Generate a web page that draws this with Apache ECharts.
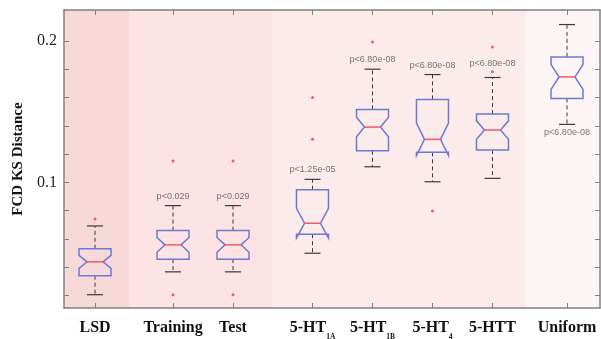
<!DOCTYPE html>
<html>
<head>
<meta charset="utf-8">
<script src="https://cdn.jsdelivr.net/npm/echarts@6/dist/echarts.min.js"></script>
<style>html,body{margin:0;padding:0;background:#fff}#c{width:601px;height:339px}</style>
</head>
<body>
<div id="c"></div>
<script>
// ---- data ----
const categories = ['LSD', 'Training', 'Test', '5-HT1A', '5-HT1B', '5-HT4', '5-HTT', 'Uniform'];
const tickLabels = ['{b|LSD}', '{b|Training}', '{b|Test}', '{b|5-HT}{s|1A}', '{b|5-HT}{s|1B}', '{b|5-HT}{s|4}', '{b|5-HTT}', '{b|Uniform}'];
const positions = [1, 2.3, 3.3, 4.625, 5.625, 6.625, 7.625, 8.867];
const whiskerLow  = [0.0204, 0.0366, 0.0366, 0.0498, 0.1110, 0.1004, 0.1028, 0.1410];
const q1          = [0.0339, 0.0456, 0.0456, 0.0633, 0.1223, 0.1212, 0.1228, 0.1594];
const median      = [0.0437, 0.0557, 0.0557, 0.0710, 0.1391, 0.1304, 0.1370, 0.1746];
const q3          = [0.0529, 0.0658, 0.0658, 0.0948, 0.1516, 0.1587, 0.1483, 0.1888];
const whiskerHigh = [0.0691, 0.0835, 0.0835, 0.1021, 0.1801, 0.1763, 0.1742, 0.2117];
const notchHalf   = [0.0046, 0.0052, 0.0052, 0.0105, 0.0069, 0.0115, 0.0065, 0.0088];
const outliers = [[0.0741], [0.1151, 0.0204], [0.1151, 0.0204], [0.1601, 0.1304], [0.1994], [0.0797], [0.1958, 0.1782], []];
const pLabels = ['', 'p<0.029', 'p<0.029', 'p<1.25e-05', 'p<6.80e-08', 'p<6.80e-08', 'p<6.80e-08', 'p<6.80e-08'];
const yTicks = [0.02, 0.04, 0.06, 0.08, 0.1, 0.12, 0.14, 0.16, 0.18, 0.2];
const yTickLabels = [0.1, 0.2];
const bandEdges = [0.483, 1.567, 3.95, 8.167, 9.417];
const bandColors = ['#f8d9d9', '#fde3e3', '#fcebeb', '#fdf5f5'];

const X_MIN = 0.483, X_MAX = 9.417, Y_MIN = 0.011, Y_MAX = 0.222;

const boxData = categories.map((c, i) => [positions[i], whiskerLow[i], q1[i], median[i], q3[i], whiskerHigh[i], notchHalf[i]]);
const outlierData = [];
outliers.forEach((arr, i) => arr.forEach(v => outlierData.push([positions[i], v])));
const labelData = [];
categories.forEach((c, i) => {
  if (!pLabels[i]) return;
  const below = c === 'Uniform';
  // step the label past an outlier sitting just above the whisker cap
  const crowded = outliers[i].some(v => v > whiskerHigh[i] && v - whiskerHigh[i] < 0.006);
  labelData.push({
    value: [positions[i], below ? whiskerLow[i] : whiskerHigh[i]],
    text: pLabels[i],
    label: { position: below ? 'bottom' : 'top', distance: below ? 4 : (crowded ? 9 : 5) }
  });
});
const markAreaData = bandColors.map((col, i) => [{ xAxis: bandEdges[i], itemStyle: { color: col } }, { xAxis: bandEdges[i + 1] }]);

function renderBox(params, api) {
  const x = api.value(0), lo = api.value(1), a = api.value(2), m = api.value(3), b = api.value(4), hi = api.value(5), nh = api.value(6);
  const c = v => api.coord([x, v]);
  const pLo = c(lo), pQ1 = c(a), pM = c(m), pQ3 = c(b), pHi = c(hi), pNL = c(m - nh), pNH = c(m + nh);
  const cx = pM[0], W = 16, Wi = 8, Wc = 8;
  const dash = { stroke: '#3a3a3a', lineWidth: 1, lineDash: [4, 3] };
  const solid = { stroke: '#3a3a3a', lineWidth: 1.2 };
  return {
    type: 'group',
    children: [
      { type: 'line', shape: { x1: cx, y1: pQ3[1], x2: cx, y2: pHi[1] }, style: dash },
      { type: 'line', shape: { x1: cx, y1: pQ1[1], x2: cx, y2: pLo[1] }, style: dash },
      { type: 'line', shape: { x1: cx - Wc, y1: pHi[1], x2: cx + Wc, y2: pHi[1] }, style: solid },
      { type: 'line', shape: { x1: cx - Wc, y1: pLo[1], x2: cx + Wc, y2: pLo[1] }, style: solid },
      { type: 'polygon', shape: { points: [
          [cx - W, pQ3[1]], [cx - W, pNH[1]], [cx - Wi, pM[1]], [cx - W, pNL[1]], [cx - W, pQ1[1]],
          [cx + W, pQ1[1]], [cx + W, pNL[1]], [cx + Wi, pM[1]], [cx + W, pNH[1]], [cx + W, pQ3[1]]
        ] }, style: { fill: 'none', stroke: '#6a7bd3', lineWidth: 1.5 } },
      { type: 'line', shape: { x1: cx - Wi, y1: pM[1], x2: cx + Wi, y2: pM[1] }, style: { stroke: '#ef5a66', lineWidth: 1.5 } }
    ]
  };
}

const axisColor = '#808080';
const chart = echarts.init(document.getElementById('c'), null, { renderer: 'canvas' });
chart.setOption({
  animation: false,
  backgroundColor: '#ffffff',
  grid: { left: 64, right: 1, top: 10, bottom: 31, containLabel: false, outerBoundsMode: 'none' },
  xAxis: [
    {
      type: 'value', min: X_MIN, max: X_MAX, position: 'bottom', z: 10,
      axisLine: { show: true, onZero: false, lineStyle: { color: axisColor, width: 1.5 } },
      splitLine: { show: false },
      axisTick: { show: true, inside: true, length: 5, customValues: positions, lineStyle: { color: axisColor } },
      axisLabel: {
        customValues: positions, margin: 12, color: '#111',
        formatter: v => { let k = 0; positions.forEach((p, i) => { if (Math.abs(p - v) < Math.abs(positions[k] - v)) k = i; }); return tickLabels[k]; },
        rich: {
          b: { fontFamily: 'Liberation Serif', fontWeight: 'bold', fontSize: 16, lineHeight: 16, color: '#111', verticalAlign: 'top' },
          s: { fontFamily: 'Liberation Serif', fontWeight: 'bold', fontSize: 7.5, lineHeight: 7, color: '#111', verticalAlign: 'top', padding: [13, 0, 0, 0] }
        }
      }
    },
    {
      type: 'value', min: X_MIN, max: X_MAX, position: 'top', z: 10,
      axisLine: { show: true, onZero: false, lineStyle: { color: axisColor, width: 1.5 } },
      splitLine: { show: false },
      axisTick: { show: true, inside: true, length: 5, customValues: positions, lineStyle: { color: axisColor } },
      axisLabel: { show: false }
    }
  ],
  yAxis: [
    {
      type: 'value', min: Y_MIN, max: Y_MAX, position: 'left', z: 10,
      axisLine: { show: true, onZero: false, lineStyle: { color: axisColor, width: 1.5 } },
      splitLine: { show: false },
      axisTick: { show: true, inside: true, length: 5, customValues: yTicks, lineStyle: { color: axisColor } },
      axisLabel: { customValues: yTickLabels, margin: 7, color: '#222', fontFamily: 'Liberation Serif', fontSize: 16, formatter: v => String(v) },
      name: 'FCD KS Distance', nameLocation: 'middle', nameGap: 37, nameRotate: 90,
      nameTextStyle: { fontFamily: 'Liberation Serif', fontWeight: 'bold', fontSize: 15, color: '#111' }
    },
    {
      type: 'value', min: Y_MIN, max: Y_MAX, position: 'right', z: 10,
      axisLine: { show: true, onZero: false, lineStyle: { color: axisColor, width: 1.5 } },
      splitLine: { show: false },
      axisTick: { show: true, inside: true, length: 5, customValues: yTicks, lineStyle: { color: axisColor } },
      axisLabel: { show: false }
    }
  ],
  series: [
    {
      type: 'scatter', name: 'outliers', data: outlierData, symbol: 'circle', symbolSize: 3,
      itemStyle: { color: '#f03a3a' }, z: 3,
      markArea: { silent: true, data: markAreaData, z: 1 }
    },
    {
      type: 'custom', name: 'boxes', data: boxData, renderItem: renderBox, z: 4,
      encode: { x: 0, y: [1, 2, 3, 4, 5] }
    },
    {
      type: 'scatter', name: 'pvalues', data: labelData, symbolSize: 0, itemStyle: { color: 'rgba(0,0,0,0)' }, z: 5,
      label: {
        show: true, formatter: p => p.data.text,
        fontFamily: 'Liberation Sans', fontSize: 9, color: '#555'
      }
    }
  ]
});
</script>
</body>
</html>
